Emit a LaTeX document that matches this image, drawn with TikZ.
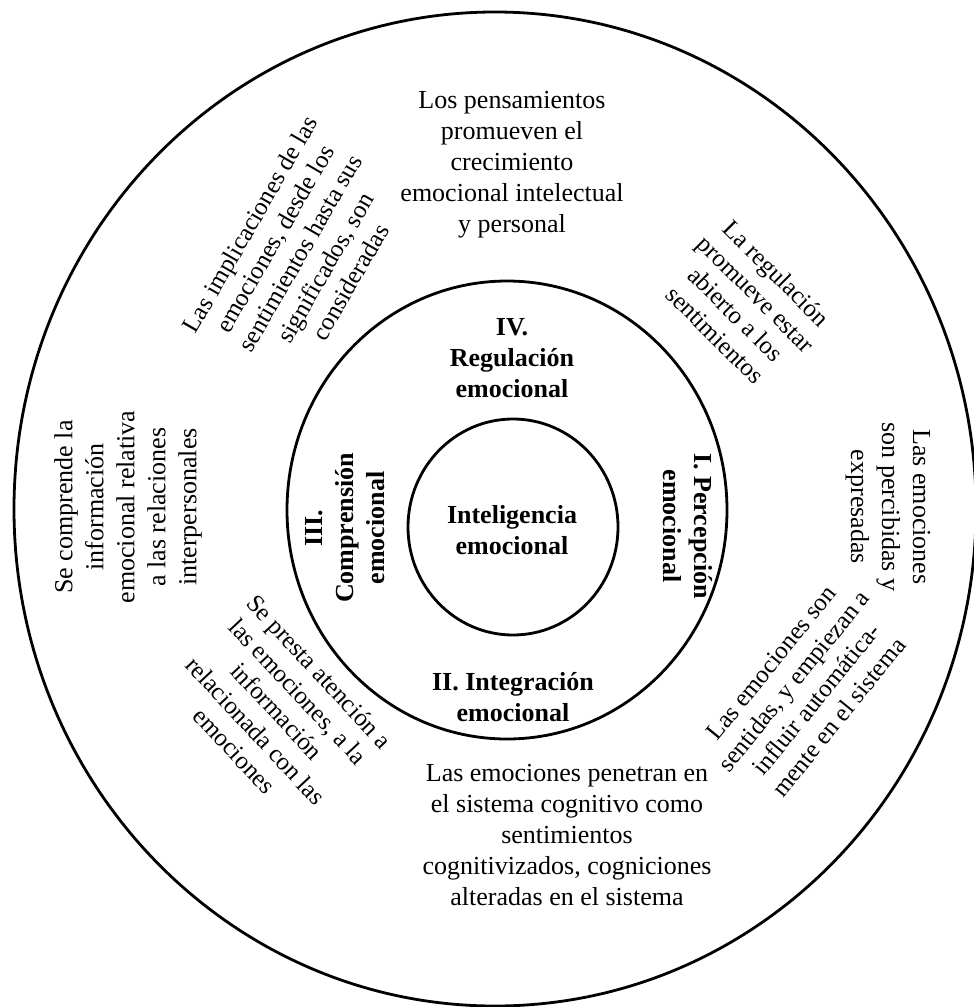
\documentclass[tikz,border=0pt]{standalone}
\usepackage{fontspec}
\setmainfont{Liberation Serif}
\usetikzlibrary{positioning}

\begin{document}
\begin{tikzpicture}[x=0.5pt,y=-0.5pt,
    ring/.style={draw,line width=1.4pt},
    txt/.style={align=center,inner sep=0pt,font=\fontsize{13}{15.5}\selectfont},
    slant/.style={align=center,inner sep=0pt,font=\fontsize{12.5}{14.5}\selectfont},
    dim/.style={align=center,inner sep=0pt,font=\fontsize{13}{15.5}\selectfont\bfseries}
  ]
    \useasboundingbox (0,0) rectangle (974,1007);
    % rings
    \coordinate (outerc) at (495,509);
    \coordinate (midc) at (507,510);
    \coordinate (corec) at (513,527);
    \draw[ring] (outerc) ellipse [x radius=481, y radius=497];
    \draw[ring] (midc) ellipse [x radius=220, y radius=229];
    \draw[ring] (corec) ellipse [x radius=105, y radius=108];
    % centre and the four branches
    \node[dim] (core) at (512,530) {Inteligencia\\emocional};
    \node[dim] (regul) at (512,358) {IV.\\Regulación\\emocional};
    \node[dim] (integ) at (513,697) {II. Integración\\emocional};
    \node[dim,rotate=-90] (percep) at (688,526) {I. Percepción\\emocional};
    \node[dim,rotate=90] (compr) at (345,528) {III.\\Comprensión\\emocional};
    % outer ring texts
    \node[txt] (regtop) at (512,165)
      {Los pensamientos\\promueven el\\crecimiento\\emocional intelectual\\y personal};
    \node[slant,rotate=-45] (regright) at (746,304)
      {La regulación\\promueve estar\\abierto a los\\sentimientos};
    \node[txt,rotate=-90] (percright) at (888,507)
      {Las emociones\\son percibidas y\\expresadas};
    \node[slant,rotate=51] (percbot) at (805,690)
      {Las emociones son\\sentidas, y empiezan a\\influir automática-\\mente en el sistema};
    \node[txt] (integbot) at (567,835)
      {Las emociones penetran en\\el sistema cognitivo como\\sentimientos\\cognitivizados, cogniciones\\alteradas en el sistema};
    \node[slant,rotate=-47] (integleft) at (277,711)
      {Se presta atención a\\las emociones, a la\\información\\relacionada con las\\emociones};
    \node[txt,rotate=90] (compleft) at (128,507)
      {Se comprende la\\información\\emocional relativa\\a las relaciones\\interpersonales};
    \node[slant,rotate=60] (comptop) at (300,253)
      {Las implicaciones de las\\emociones, desde los\\sentimientos hasta sus\\significados, son\\consideradas};
\end{tikzpicture}
\end{document}
